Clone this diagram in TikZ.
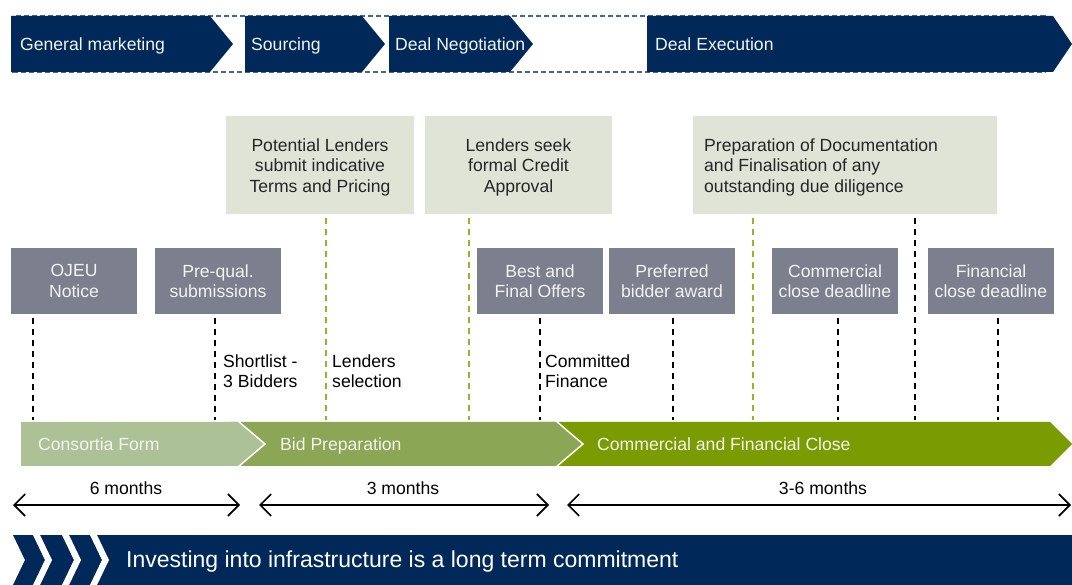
\documentclass[tikz,border=0pt]{standalone}
\usepackage{fontspec}
\setmainfont{Liberation Sans}
\usetikzlibrary{arrows.meta}
\definecolor{navy}{RGB}{0,41,90}
\definecolor{bordblue}{RGB}{75,100,135}
\definecolor{boxgray}{RGB}{123,127,142}
\definecolor{boxsage}{RGB}{223,228,214}
\definecolor{consort}{RGB}{173,193,151}
\definecolor{bidprep}{RGB}{139,166,85}
\definecolor{closegreen}{RGB}{122,156,2}
\definecolor{dashgreen}{RGB}{150,180,40}
\definecolor{softwhite}{RGB}{242,244,240}
\begin{document}
\begin{tikzpicture}[x=1pt,y=-1pt,
  txt/.style={font=\fontsize{17.6}{20.5}\selectfont, inner sep=0pt},
  bandtxt/.style={txt, text=softwhite, anchor=west, text height=12.6pt, text depth=0pt},
  sagebox/.style={fill=boxsage, minimum height=98pt, inner sep=0pt},
  sagetxt/.style={txt, align=center, text=black!85},
  graybox/.style={txt, fill=boxgray, minimum width=126pt, minimum height=66pt, align=center, text=softwhite},
  blackdash/.style={draw=black, line width=1.2pt, dash pattern=on 6pt off 5pt},
  greendash/.style={draw=dashgreen, line width=1.2pt, dash pattern=on 6pt off 5pt},
  label/.style={txt, anchor=west, align=left, text=black},
  span/.style={line width=1.6pt, {Straight Barb[length=11pt,width=22pt]}-{Straight Barb[length=11pt,width=22pt]}},
  spanlabel/.style={txt, text=black}
]
\useasboundingbox (0,0) rectangle (1072,585);

% ---------- top band ----------
\draw[bordblue, line width=1.2pt, dash pattern=on 5pt off 3pt] (13,16) rectangle (1045,72);
\fill[navy] (11,16) -- (210,16) -- (233,44) -- (210,72) -- (11,72) -- cycle;
\fill[navy] (245,16) -- (362,16) -- (385,44) -- (362,72) -- (245,72) -- cycle;
\fill[navy] (389,16) -- (510,16) -- (533,44) -- (510,72) -- (389,72) -- cycle;
\fill[navy] (647,16) -- (1053,16) -- (1072,44) -- (1053,72) -- (647,72) -- cycle;
\node[bandtxt] (gm) at (20,44) {General marketing};
\node[bandtxt] (src) at (251,44) {Sourcing};
\node[bandtxt] (neg) at (395,44) {Deal Negotiation};
\node[bandtxt] (exe) at (655,44) {Deal Execution};

% ---------- lender boxes ----------
\node[sagebox, minimum width=188pt] (pl) at (320,165) {};
\node[sagetxt] (plt) at (320,167) {Potential Lenders\\submit indicative\\Terms and Pricing};
\node[sagebox, minimum width=187pt] (ls) at (518.5,165) {};
\node[sagetxt] (lst) at (518.5,167) {Lenders seek\\formal Credit\\Approval};
\node[sagebox, minimum width=304pt] (pd) at (845,165) {};
\node[sagetxt, align=left, anchor=west] (pdt) at (704,167) {Preparation of Documentation\\and Finalisation of any\\outstanding due diligence};

% ---------- milestone boxes ----------
\node[graybox] (ojeu) at (74,281) {OJEU\\Notice};
\node[graybox] (pq) at (218,281) {Pre-qual.\\submissions};
\node[graybox] (bafo) at (540,281) {Best and\\Final Offers};
\node[graybox] (pba) at (672,281) {Preferred\\bidder award};
\node[graybox] (ccd) at (835,281) {Commercial\\close deadline};
\node[graybox] (fcd) at (991,281) {Financial\\close deadline};

% ---------- dashed markers ----------
\foreach \n/\x in {a/33,b/215,c/540,d/673,e/838,f/998}{
  \coordinate (t\n) at (\x,318);
  \coordinate (b\n) at (\x,420);
  \draw[blackdash] (t\n) -- (b\n);
}
\coordinate (tg) at (915,218); \coordinate (bg) at (915,420);
\draw[blackdash] (tg) -- (bg);
\foreach \n/\x in {h/326,i/469,j/753}{
  \coordinate (t\n) at (\x,218);
  \coordinate (b\n) at (\x,420);
  \draw[greendash] (t\n) -- (b\n);
}
\node[label] (sl) at (223,371) {Shortlist -\\3 Bidders};
\node[label] (lsel) at (332,371) {Lenders\\selection};
\node[label] (cf) at (545,371) {Committed\\Finance};

% ---------- phase bar ----------
\fill[closegreen] (540,422) -- (1050,422) -- (1072,444) -- (1050,466) -- (540,466) -- cycle;
\fill[bidprep] (230,422) -- (556,422) -- (583,444) -- (556,466) -- (230,466) -- cycle;
\draw[white, line width=1.5pt] (556,421) -- (583,444) -- (556,467);
\fill[consort] (21,422) -- (238,422) -- (265,444) -- (238,466) -- (21,466) -- cycle;
\draw[white, line width=1.5pt] (238,421) -- (265,444) -- (238,467);
\node[bandtxt] (cfm) at (38,444) {Consortia Form};
\node[bandtxt] (bp) at (280,444) {Bid Preparation};
\node[bandtxt] (cfc) at (597,444) {Commercial and Financial Close};

% ---------- durations ----------
\coordinate (s1a) at (13,505); \coordinate (s1b) at (240,505);
\coordinate (s2a) at (259,505); \coordinate (s2b) at (549,505);
\coordinate (s3a) at (567,505); \coordinate (s3b) at (1071,505);
\draw[span] (s1a) -- (s1b);
\draw[span] (s2a) -- (s2b);
\draw[span] (s3a) -- (s3b);
\node[spanlabel] (m6) at (126,488) {6 months};
\node[spanlabel] (m3) at (403,488) {3 months};
\node[spanlabel] (m36) at (823,488) {3-6 months};

% ---------- banner ----------
\fill[navy] (13,535) -- (1072,535) -- (1072,585) -- (13,585) -- (25,560) -- cycle;
\foreach \x in {33,62,90}{
  \fill[white] (\x,535) -- (\x+7,535) -- (\x+19,560) -- (\x+7,585) -- (\x,585) -- (\x+12,560) -- cycle;
}
\node[txt, font=\fontsize{23}{26}\selectfont, text=white, anchor=west] (msg) at (126,562) {Investing into infrastructure is a long term commitment};
\end{tikzpicture}
\end{document}
